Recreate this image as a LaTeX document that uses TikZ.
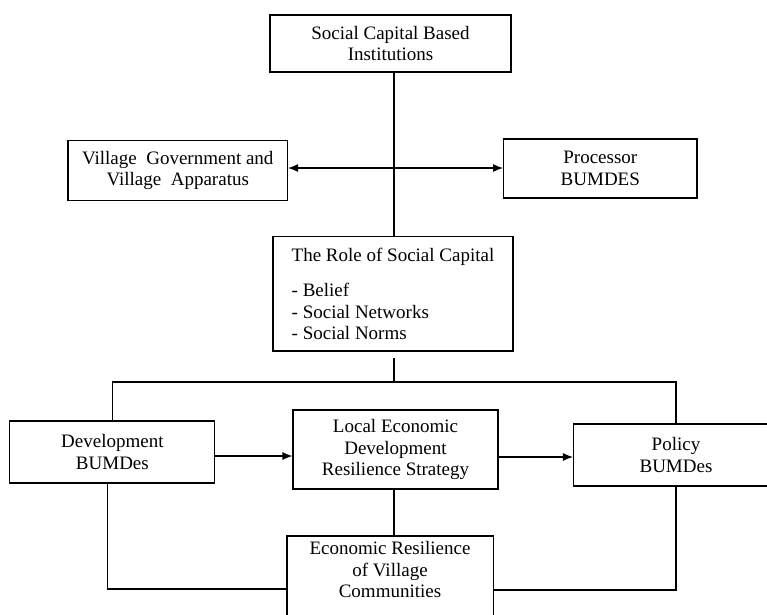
\documentclass[tikz,border=0pt]{standalone}
\usepackage{fontspec}
\setmainfont{Liberation Serif}
\usetikzlibrary{arrows.meta,calc}
\begin{document}
\begin{tikzpicture}[x=1pt,y=-1pt,
  box/.style={draw, line width=1.1pt, inner sep=0pt, align=center, font=\fontsize{19}{21.5}\selectfont},
  conn/.style={line width=1.1pt},
  arr/.style={line width=1.1pt, -{Latex[length=10pt,width=8pt]}},
  darr/.style={line width=1.1pt, {Latex[length=10pt,width=8pt]}-{Latex[length=10pt,width=8pt]}}]
\clip (0,0) rectangle (767,614);
\fill[white] (0,0) rectangle (767,614);
% boxes
\node[box, minimum width=241pt, minimum height=57pt] (inst) at (390.5,43.5) {Social Capital Based\\Institutions};
\node[box, minimum width=219.5pt, minimum height=60pt] (gov) at (177.75,170.7) {Village\ \ Government and\\Village\ \ Apparatus};
\node[box, minimum width=193.4pt, minimum height=59pt] (proc) at (600.3,168.5) {Processor\\BUMDES};
\node[box, align=left, minimum width=240pt, minimum height=114.3pt] (role) at (393,293.85) {The Role of Social Capital\\[14pt]- Belief\\- Social Networks\\- Social Norms};
\node[box, minimum width=205pt, minimum height=62pt] (dev) at (112.4,452) {Development\\BUMDes};
\node[box, minimum width=205pt, minimum height=79pt] (local) at (395.5,449.5) {Local Economic\\Development\\Resilience\ Strategy};
\node[box, minimum width=205pt, minimum height=62pt] (policy) at (676,455) {Policy\\BUMDes};
\node[box, draw=none, minimum width=205pt, anchor=north, inner ysep=5pt] (econ) at (390,536) {Economic Resilience\\of Village\\Communities};
\draw[line width=1.1pt] (econ.north west) rectangle (econ.east |- 0,640);
% helper coordinates
\coordinate (cx) at (394,0);
\coordinate (ay) at (0,168);
\coordinate (br) at (394,382);
\coordinate (rs) at ($(role.south -| cx)+(0,6)$);
\coordinate (a2) at (0,456);
\coordinate (a3) at (0,457);
\coordinate (dl) at (107.6,0);
\coordinate (yb) at (0,589);
\coordinate (yb2) at (0,590);
% connectors
\draw[conn] (inst.south -| cx) -- (role.north -| cx);
\draw[darr] (gov.east |- ay) -- (proc.west |- ay);
\draw[conn] (rs) -- (br);
\draw[conn] (dev.north) |- (br) -| (policy.north);
\draw[arr] (dev.east |- a2) -- (local.west |- a2);
\draw[arr] (local.east |- a3) -- (policy.west |- a3);
\draw[conn] (local.south -| cx) -- (econ.north -| cx);
\draw[conn] (dev.south -| dl) |- (econ.west |- yb);
\draw[conn] (policy.south) |- (econ.east |- yb2);
\end{tikzpicture}
\end{document}
